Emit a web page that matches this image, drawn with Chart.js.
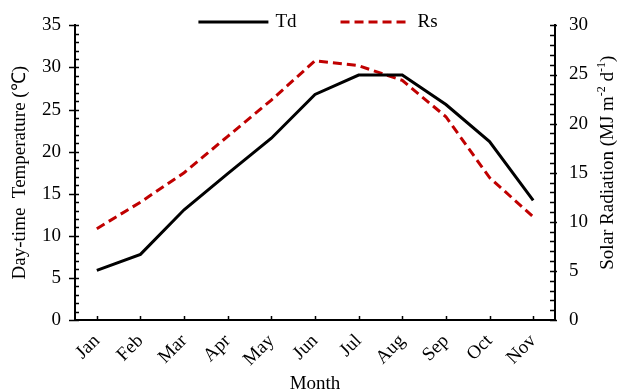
<!DOCTYPE html>
<html>
<head>
<meta charset="utf-8">
<script src="https://cdn.jsdelivr.net/npm/chart.js@4/dist/chart.umd.min.js"></script>
<style>
  html, body { margin: 0; padding: 0; background: #fff; }
  #wrap { width: 619px; height: 392px; }
</style>
</head>
<body>
<div id="wrap"><canvas id="chart"></canvas></div>
<script>
// data
const months = ["Jan", "Feb", "Mar", "Apr", "May", "Jun", "Jul", "Aug", "Sep", "Oct", "Nov"];
const tdValues = [5.9, 7.8, 13.1, 17.4, 21.6, 26.8, 29.1, 29.1, 25.6, 21.2, 14.2];
const rsValues = [9.3, 12.0, 15.0, 18.7, 22.4, 26.4, 25.9, 24.4, 20.7, 14.5, 10.5];
const leftTicks = [0, 5, 10, 15, 20, 25, 30, 35];
const rightTicks = [0, 5, 10, 15, 20, 25, 30];

const FONT = "'Liberation Serif', 'Times New Roman', serif";
const RED = "#c00000";
const SIZE = 19;

// axis tick marks: majors cross the axis, minors point inward
const tickMarks = {
  id: "tickMarks",
  afterDraw(chart) {
    const ctx = chart.ctx;
    const area = chart.chartArea;
    ctx.save();
    ctx.strokeStyle = "#000";
    ctx.lineWidth = 1.5;
    ctx.beginPath();
    const y = chart.scales.y;
    for (let v = 0; v <= 35; v++) {
      const py = Math.round(y.getPixelForValue(v)) + 0.5;
      if (v % 5 === 0) { ctx.moveTo(area.left - 6, py); ctx.lineTo(area.left + 4, py); }
      else { ctx.moveTo(area.left, py); ctx.lineTo(area.left + 4, py); }
    }
    const y1 = chart.scales.y1;
    for (let v = 0; v <= 30; v++) {
      const py = Math.round(y1.getPixelForValue(v)) + 0.5;
      if (v % 5 === 0) { ctx.moveTo(area.right - 5, py); ctx.lineTo(area.right + 2, py); }
      else { ctx.moveTo(area.right - 5, py); ctx.lineTo(area.right, py); }
    }
    const x = chart.scales.x;
    months.forEach((m, i) => {
      const px = Math.round(x.getPixelForValue(i)) + 0.5;
      ctx.moveTo(px, area.bottom); ctx.lineTo(px, area.bottom - 4);
    });
    ctx.stroke();
    ctx.restore();
  },
};

// legend across the top: line sample then label
const topLegend = {
  id: "topLegend",
  afterDraw(chart) {
    const ctx = chart.ctx;
    const area = chart.chartArea;
    const sample = 70, gapText = 7, gapItem = 44;
    ctx.save();
    ctx.font = SIZE + "px " + FONT;
    const sets = chart.data.datasets;
    let total = 0;
    sets.forEach((ds, i) => {
      total += sample + gapText + ctx.measureText(ds.label).width;
      if (i > 0) total += gapItem;
    });
    let cx = (area.left + area.right) / 2 - total / 2 + 3;
    const cy = 22;
    sets.forEach((ds) => {
      ctx.beginPath();
      ctx.strokeStyle = ds.borderColor;
      ctx.lineWidth = ds.borderWidth;
      ctx.setLineDash(ds.borderDash || []);
      ctx.moveTo(cx, cy);
      ctx.lineTo(cx + sample, cy);
      ctx.stroke();
      ctx.setLineDash([]);
      ctx.fillStyle = "#000";
      ctx.textBaseline = "middle";
      ctx.fillText(ds.label, cx + sample + gapText, cy);
      cx += sample + gapText + ctx.measureText(ds.label).width + gapItem;
    });
    ctx.restore();
  },
};

// right axis title, read bottom to top, with real superscripts
const rightTitle = {
  id: "rightTitle",
  afterDraw(chart) {
    const ctx = chart.ctx;
    const area = chart.chartArea;
    const parts = [
      ["Solar Radiation (MJ m", false],
      ["-2", true],
      [" d", false],
      ["-1", true],
      [")", false],
    ];
    const big = SIZE + "px " + FONT;
    const small = "12px " + FONT;
    ctx.save();
    let total = 0;
    parts.forEach(([t, sup]) => {
      ctx.font = sup ? small : big;
      total += ctx.measureText(t).width;
    });
    ctx.translate(chart.width - 11, (area.top + area.bottom) / 2 - 10);
    ctx.rotate(-Math.PI / 2);
    ctx.fillStyle = "#000";
    ctx.textBaseline = "middle";
    let x = -total / 2;
    parts.forEach(([t, sup]) => {
      ctx.font = sup ? small : big;
      ctx.fillText(t, x, sup ? -6 : 0);
      x += ctx.measureText(t).width;
    });
    ctx.restore();
  },
};

new Chart(document.getElementById("chart"), {
  type: "line",
  data: {
    labels: months,
    datasets: [
      {
        label: "Td",
        data: tdValues,
        yAxisID: "y",
        borderColor: "#000",
        backgroundColor: "#000",
        borderWidth: 3,
        pointRadius: 0,
        tension: 0,
      },
      {
        label: "Rs",
        data: rsValues,
        yAxisID: "y1",
        borderColor: RED,
        backgroundColor: RED,
        borderWidth: 3,
        borderDash: [9, 5],
        pointRadius: 0,
        tension: 0,
      },
    ],
  },
  options: {
    responsive: true,
    maintainAspectRatio: false,
    animation: false,
    layout: { padding: { top: 24, left: 0, right: 0, bottom: 0 } },
    plugins: {
      legend: { display: false },
      tooltip: { enabled: false },
    },
    scales: {
      x: {
        offset: true,
        grid: { display: false, drawTicks: false },
        border: { display: true, color: "#000", width: 2 },
        ticks: {
          color: "#000",
          font: { family: FONT, size: SIZE },
          minRotation: 45,
          maxRotation: 45,
          padding: 10,
        },
        title: {
          display: true,
          text: "Month",
          color: "#000",
          font: { family: FONT, size: SIZE },
          padding: { top: 0, bottom: -3 },
        },
        afterFit(scale) { scale.height = 72; },
      },
      y: {
        position: "left",
        min: 0,
        max: 35,
        afterBuildTicks(scale) { scale.ticks = leftTicks.map((v) => ({ value: v })); },
        grid: { display: false, drawTicks: false },
        border: { display: true, color: "#000", width: 2 },
        ticks: {
          color: "#000",
          font: { family: FONT, size: SIZE },
          padding: 14,
        },
        title: {
          display: true,
          text: "Day-time  Temperature (℃)",
          color: "#000",
          font: { family: FONT, size: SIZE },
          padding: { top: 9, bottom: 0 },
        },
        afterFit(scale) { scale.width = 75; },
      },
      y1: {
        position: "right",
        min: 0,
        max: 30,
        afterBuildTicks(scale) { scale.ticks = rightTicks.map((v) => ({ value: v })); },
        grid: { display: false, drawTicks: false },
        border: { display: true, color: "#000", width: 2 },
        ticks: {
          color: "#000",
          font: { family: FONT, size: SIZE },
          padding: 14,
        },
        title: { display: false },
        afterFit(scale) { scale.width = 64; },
      },
    },
  },
  plugins: [tickMarks, topLegend, rightTitle],
});
</script>
</body>
</html>
